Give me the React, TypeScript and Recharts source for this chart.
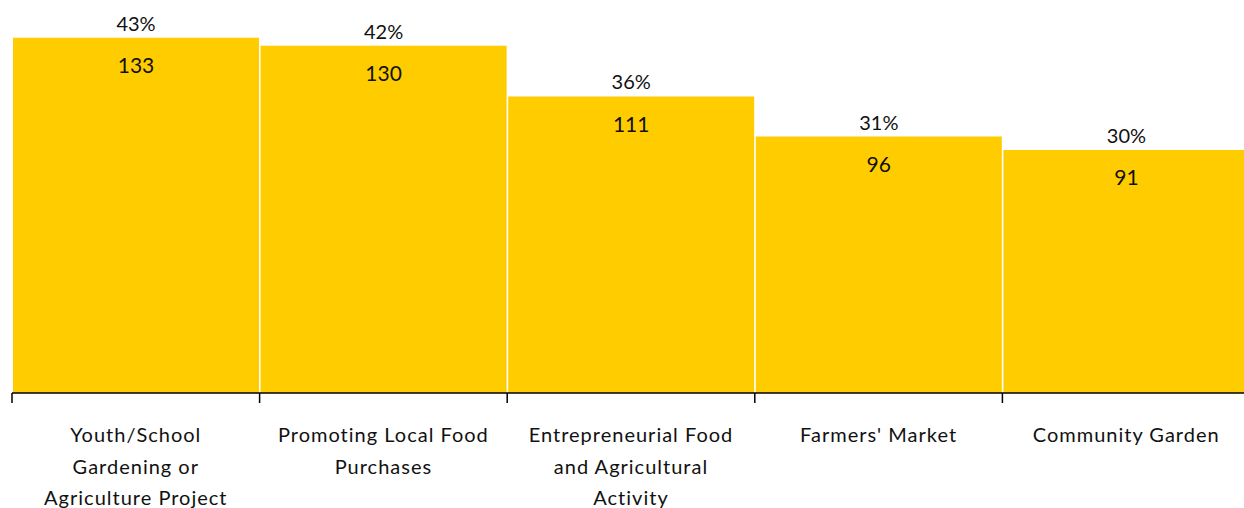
import { Bar, BarChart, LabelList, XAxis, YAxis } from "recharts"

// categories, split into lines as they appear under the axis
const categories = [
  "Youth/School Gardening or Agriculture Project",
  "Promoting Local Food Purchases",
  "Entrepreneurial Food and Agricultural Activity",
  "Farmers' Market",
  "Community Garden",
]
const tickLines = [
  ["Youth/School", "Gardening or", "Agriculture Project"],
  ["Promoting Local Food", "Purchases"],
  ["Entrepreneurial Food", "and Agricultural", "Activity"],
  ["Farmers' Market"],
  ["Community Garden"],
]
const counts = [133, 130, 111, 96, 91]
const percents = [43, 42, 36, 31, 30]

const data = categories.map((name, i) => ({ name, count: counts[i], pct: percents[i], idx: i }))

const FONT = "Lato, 'Open Sans', sans-serif"

function BoundaryTick(props: any) {
  const { x, y, payload, index, width, visibleTicksCount } = props
  const band = (width || 1238) / (visibleTicksCount || 5)
  const lines = tickLines[index] || [payload.value]
  const left = x - band / 2
  return (
    <g>
      <line x1={left} y1={y - 8} x2={left} y2={y + 2} stroke="#000" strokeWidth={1.5} />
      {index === 4 && (
        <line x1={left + band} y1={y - 8} x2={left + band} y2={y + 2} stroke="#000" strokeWidth={1.5} />
      )}
      {lines.map((l: string, k: number) => (
        <text
          key={k}
          x={x}
          y={y + 33 + k * 31.5}
          dominantBaseline="central"
          textAnchor="middle"
          fontFamily={FONT}
          fontSize={20}
          letterSpacing={1}
          fill="#111"
        >
          {l}
        </text>
      ))}
    </g>
  )
}

function PctLabel(props: any) {
  const { x, y, width, index } = props
  return (
    <text x={x + width / 2} y={y - 15} textAnchor="middle" dominantBaseline="central" fontFamily={FONT} fontSize={20} fill="#111">
      {percents[index]}%
    </text>
  )
}

function CountLabel(props: any) {
  const { x, y, width, index } = props
  return (
    <text x={x + width / 2} y={y + 27} textAnchor="middle" dominantBaseline="central" fontFamily={FONT} fontSize={21} fill="#111">
      {counts[index]}
    </text>
  )
}

export default function App() {
  return (
    <div style={{ position: "absolute", left: 0, top: 0, width: 1244, height: 508, overflow: "hidden" }}>
      <BarChart
        width={1244}
        height={508}
        data={data}
        margin={{ top: 19, right: -6, bottom: 0, left: 12 }}
        barCategoryGap={1}
      >
        <XAxis
          dataKey="name"
          height={115}
          interval={0}
          axisLine={{ stroke: "#000", strokeWidth: 1.5 }}
          tickLine={false}
          tick={<BoundaryTick />}
        />
        <YAxis hide domain={[0, 140]} />
        <Bar dataKey="count" fill="#FFCC00" isAnimationActive={false}>
          <LabelList dataKey="pct" content={<PctLabel />} />
          <LabelList dataKey="count" content={<CountLabel />} />
        </Bar>
      </BarChart>
    </div>
  )
}
